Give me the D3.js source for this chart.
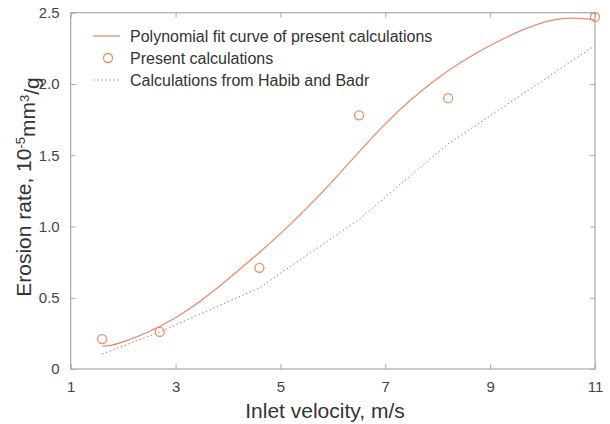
<!DOCTYPE html>
<html><head><meta charset="utf-8">
<script src="https://cdn.jsdelivr.net/npm/d3@7"></script>
<style>body{margin:0;background:#fff}</style>
</head><body>
<svg id="c" width="610" height="424"></svg>
<script>
const presentX = [1.6, 2.7, 4.6, 6.5, 8.2, 11];
const presentY = [0.21, 0.26, 0.71, 1.78, 1.90, 2.47];
const fitX = [1.6, 2, 3, 4, 5, 6, 7, 8, 9, 10, 10.6, 11];
const fitY = [0.16, 0.19, 0.36, 0.63, 0.95, 1.32, 1.72, 2.04, 2.27, 2.43, 2.462, 2.45];
const habibX = [1.6, 2.7, 4.6, 6.5, 8.2, 11];
const habibY = [0.105, 0.26, 0.57, 1.05, 1.58, 2.27];
const xTicks = [1, 3, 5, 7, 9, 11];
const yTicks = [0, 0.5, 1.0, 1.5, 2.0, 2.5];
const legendLabels = ["Polynomial fit curve of present calculations", "Present calculations", "Calculations from Habib and Badr"];

const svg = d3.select("#c");
const L = 70.7, R = 595, T = 12.7, B = 369;
const x = d3.scaleLinear().domain([1, 11]).range([L, R]);
const y = d3.scaleLinear().domain([0, 2.5]).range([B, T]);
const orange = "#ec8a6c", axisC = "#aaa", txt = "#444";
const FF = "Arial, 'Liberation Sans', sans-serif";

svg.append("rect").attr("x", L).attr("y", T).attr("width", R - L).attr("height", B - T)
  .attr("fill", "none").attr("stroke", axisC).attr("stroke-width", 1.2);

const xb = svg.append("g").attr("transform", `translate(0,${B})`)
  .call(d3.axisBottom(x).tickValues(xTicks).tickSizeInner(-5).tickSizeOuter(0).tickPadding(12).tickFormat(d3.format("d")));
const xt = svg.append("g").attr("transform", `translate(0,${T})`)
  .call(d3.axisTop(x).tickValues(xTicks).tickSizeInner(-5).tickSizeOuter(0).tickFormat(""));
const yl = svg.append("g").attr("transform", `translate(${L},0)`)
  .call(d3.axisLeft(y).tickValues(yTicks).tickSizeInner(-5).tickSizeOuter(0).tickPadding(11).tickFormat(d => d === 0 ? "0" : d3.format(".1f")(d)));
const yr = svg.append("g").attr("transform", `translate(${R},0)`)
  .call(d3.axisRight(y).tickValues(yTicks).tickSizeInner(-5).tickSizeOuter(0).tickFormat(""));
[xb, xt, yl, yr].forEach(g => {
  g.select(".domain").remove();
  g.selectAll("line").attr("stroke", axisC);
  g.selectAll("text").attr("fill", txt).style("font-family", FF).style("font-size", "15px");
});

const hab = habibX.map((d, i) => [d, habibY[i]]);
svg.append("path").datum(hab)
  .attr("d", d3.line().x(d => x(d[0])).y(d => y(d[1])))
  .attr("fill", "none").attr("stroke", "#888").attr("stroke-width", 1).attr("stroke-dasharray", "1.5,2.5");

const fit = fitX.map((d, i) => [d, fitY[i]]);
svg.append("path").datum(fit)
  .attr("d", d3.line().curve(d3.curveNatural).x(d => x(d[0])).y(d => y(d[1])))
  .attr("fill", "none").attr("stroke", orange).attr("stroke-width", 1.3);

svg.selectAll("circle.p").data(presentX.map((d, i) => [d, presentY[i]])).enter()
  .append("circle").attr("cx", d => x(d[0])).attr("cy", d => y(d[1])).attr("r", 4.5)
  .attr("fill", "none").attr("stroke", orange).attr("stroke-width", 1.3);

const lg = svg.append("g").style("font-family", FF).style("font-size", "16px");
const ly = [36, 58, 80];
lg.append("line").attr("x1", 93).attr("x2", 120).attr("y1", ly[0]).attr("y2", ly[0]).attr("stroke", orange).attr("stroke-width", 1.3);
lg.append("circle").attr("cx", 108).attr("cy", ly[1]).attr("r", 4.5).attr("fill", "none").attr("stroke", orange).attr("stroke-width", 1.3);
lg.append("line").attr("x1", 93).attr("x2", 120).attr("y1", ly[2]).attr("y2", ly[2]).attr("stroke", "#888").attr("stroke-dasharray", "1.5,2.5");
legendLabels.forEach((t, i) => lg.append("text").attr("x", 130).attr("y", ly[i]).attr("dy", "0.35em").attr("fill", "#333").text(t));

svg.append("text").attr("x", 325).attr("y", 418).attr("text-anchor", "middle")
  .attr("fill", "#333").style("font-family", FF).style("font-size", "21px")
  .text("Inlet velocity, m/s");
const yt = svg.append("text").attr("transform", `translate(31,187) rotate(-90)`).attr("text-anchor", "middle")
  .attr("fill", "#333").style("font-family", FF).style("font-size", "21px");
yt.append("tspan").text("Erosion rate, 10");
yt.append("tspan").attr("dy", "-0.5em").style("font-size", "13px").text("-5");
yt.append("tspan").attr("dy", "0.5em").text("mm");
yt.append("tspan").attr("dy", "-0.5em").style("font-size", "13px").text("3");
yt.append("tspan").attr("dy", "0.5em").text("/g");
</script>
</body></html>
